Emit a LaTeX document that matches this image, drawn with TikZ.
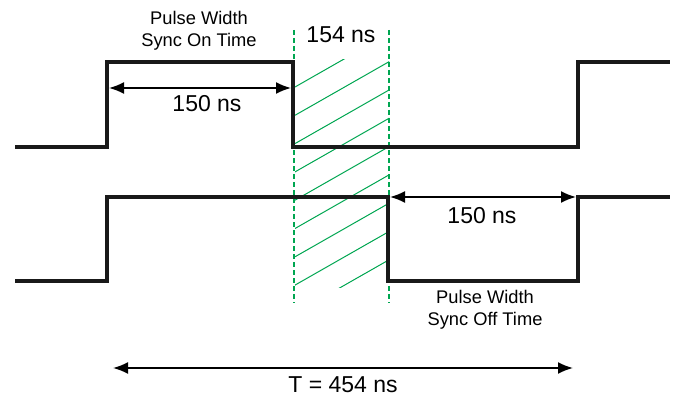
\documentclass[tikz,border=0pt]{standalone}
\usepackage{fontspec}
\setmainfont{Liberation Sans}
\usetikzlibrary{arrows.meta}
\definecolor{hatchgreen}{RGB}{0,166,81}
\begin{document}
\begin{tikzpicture}[x=1pt,y=-1pt,
  wave/.style={line width=4.3pt,line join=miter,black!90},
  dimarrow/.style={line width=1.8pt,{Latex[length=15pt,width=12pt]}-{Latex[length=15pt,width=12pt]}},
  guide/.style={hatchgreen,line width=1.3pt,dash pattern=on 5pt off 3pt},
  hatch/.style={hatchgreen,line width=1pt},
  biglabel/.style={font=\fontsize{23}{26}\selectfont,inner sep=0pt},
  smalllabel/.style={font=\fontsize{18.3}{22}\selectfont,align=center,inner sep=0pt}]
\useasboundingbox (0,0) rectangle (678,396);
% hatching
\begin{scope}
\clip (295,60) rectangle (389,287);
\foreach \k in {0,...,8}{
  \draw[hatch] (295,{87+28.3*\k}) -- ++(120,-68.4);
}
\end{scope}
% guides
\coordinate (g1t) at (294,30); \coordinate (g1b) at (294,303);
\coordinate (g2t) at (389,30); \coordinate (g2b) at (389,303);
\draw[guide] (g1t) -- (g1b);
\draw[guide] (g2t) -- (g2b);
% top waveform
\coordinate (a0) at (15,147); \coordinate (a1) at (107,147); \coordinate (a2) at (107,62);
\coordinate (a3) at (293,62); \coordinate (a4) at (293,147); \coordinate (a5) at (578,147);
\coordinate (a6) at (578,62); \coordinate (a7) at (670,62);
\draw[wave] (a0) -- (a1) -- (a2) -- (a3) -- (a4) -- (a5) -- (a6) -- (a7);
% bottom waveform
\coordinate (b0) at (15,281); \coordinate (b1) at (107,281); \coordinate (b2) at (107,197);
\coordinate (b3) at (388,197); \coordinate (b4) at (388,281); \coordinate (b5) at (578,281);
\coordinate (b6) at (578,197); \coordinate (b7) at (670,197);
\draw[wave] (b0) -- (b1) -- (b2) -- (b3) -- (b4) -- (b5) -- (b6) -- (b7);
% dimension arrows
\coordinate (d1l) at (109,88); \coordinate (d1r) at (291,88);
\draw[dimarrow] (d1l) -- (d1r);
\coordinate (d2l) at (390,197); \coordinate (d2r) at (576,197);
\draw[dimarrow] (d2l) -- (d2r);
\coordinate (d3l) at (113,368); \coordinate (d3r) at (573,368);
\draw[dimarrow] (d3l) -- (d3r);
% labels
\node[smalllabel] (pw1) at (199,31) {Pulse Width\\Sync On Time};
\node[biglabel] (l1) at (207,104) {150 ns};
\node[biglabel] (l154) at (341,35) {154 ns};
\node[biglabel] (l2) at (482,216) {150 ns};
\node[smalllabel] (pw2) at (485,310) {Pulse Width\\Sync Off Time};
\node[biglabel] (lt) at (343,385) {T = 454 ns};
\end{tikzpicture}
\end{document}
